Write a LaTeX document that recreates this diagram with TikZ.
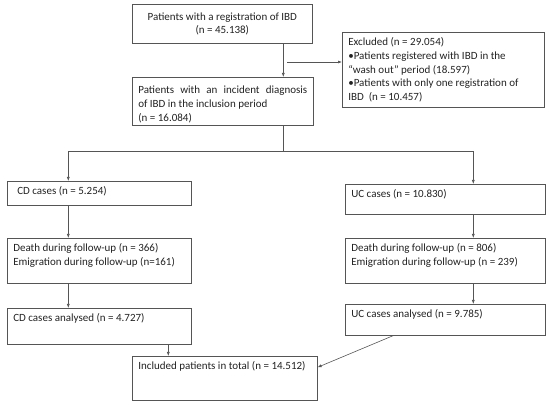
\documentclass[tikz,border=0pt]{standalone}
\usepackage{fontspec}
\setmainfont{Carlito}
\usetikzlibrary{arrows.meta}

\definecolor{linegray}{HTML}{555555}
\definecolor{textgray}{HTML}{222222}
\newcommand{\flowtext}[3]{\parbox[c][#2][t]{#1}{\strut #3}}
\tikzset{stage/.style={draw=linegray,line width=0.6pt,anchor=north west,inner xsep=6pt,inner ysep=4pt,font=\fontsize{11}{13.6}\selectfont,text=textgray}}

\begin{document}
\begin{tikzpicture}[x=1pt,y=-1pt,>={Latex[length=4pt,width=3pt]},line width=0.6pt,color=linegray]
		\useasboundingbox (0,0) rectangle (550,409);
		% boxes
		\node[stage](reg) at (132,4) {\parbox[c][31pt][c]{168pt}{\centering Patients with a registration of IBD\\(n = 45.138)}};
		\node[stage](incid) at (132,77) {\parbox[c][40pt][t]{169pt}{\vspace*{3pt}\strut Patients with an incident diagnosis\linebreak of IBD in the inclusion period\\(n = 16.084)}};
		\node[stage](excl) at (342,32) {\flowtext{190pt}{67pt}{Excluded (n = 29.054)\\\textbullet Patients registered with IBD in the\\“wash out” period (18.597)\\\textbullet Patients with only one registration of\\IBD\ \ (n = 10.457)}};
		\node[stage](cd) at (7,181) {\flowtext{172pt}{16pt}{\hspace{4pt}CD cases (n = 5.254)}};
		\node[stage](uc) at (345,184) {\flowtext{188pt}{22pt}{UC cases (n = 10.830)}};
		\node[stage](dcd) at (7,238) {\flowtext{172pt}{37pt}{Death during follow-up (n = 366)\\Emigration during follow-up (n=161)}};
		\node[stage](duc) at (345,238) {\flowtext{188pt}{37pt}{Death during follow-up (n = 806)\\Emigration during follow-up (n = 239)}};
		\node[stage](cda) at (7,308) {\flowtext{172pt}{28pt}{CD cases analysed (n = 4.727)}};
		\node[stage](uca) at (345,304) {\flowtext{188pt}{23pt}{UC cases analysed (n = 9.785)}};
		\node[stage](incl) at (132,356) {\flowtext{173pt}{36pt}{Included patients in total (n = 14.512)}};
		% connectors
		\coordinate (tap) at (287,62);
		\coordinate (fork) at (283,151);
		\draw[->] ([xshift=61pt]reg.south) -- ([xshift=60.5pt]incid.north);
		\draw[->] (tap) -- (tap -| excl.west);
		\draw (incid.south -| fork) -- (fork);
		\draw[->] (fork) -| ([xshift=-31pt]cd.north);
		\draw[->] (fork) -| ([xshift=28pt]uc.north);
		\draw[->] ([xshift=-31pt]cd.south) -- ([xshift=-31pt]dcd.north);
		\draw[->] ([xshift=-31pt]dcd.south) -- ([xshift=-31pt]cda.north);
		\draw[->] ([xshift=28pt]uc.south) -- ([xshift=28pt]duc.north);
		\draw[->] ([xshift=28pt]duc.south) -- ([xshift=28pt]uca.north);
		\draw[->] ([xshift=69pt]cda.south) -- ([xshift=-56.5pt]incl.north);
		\draw[->] ([xshift=-52pt]uca.south) -- ([yshift=11pt]incl.east);
	\end{tikzpicture}
\end{document}
